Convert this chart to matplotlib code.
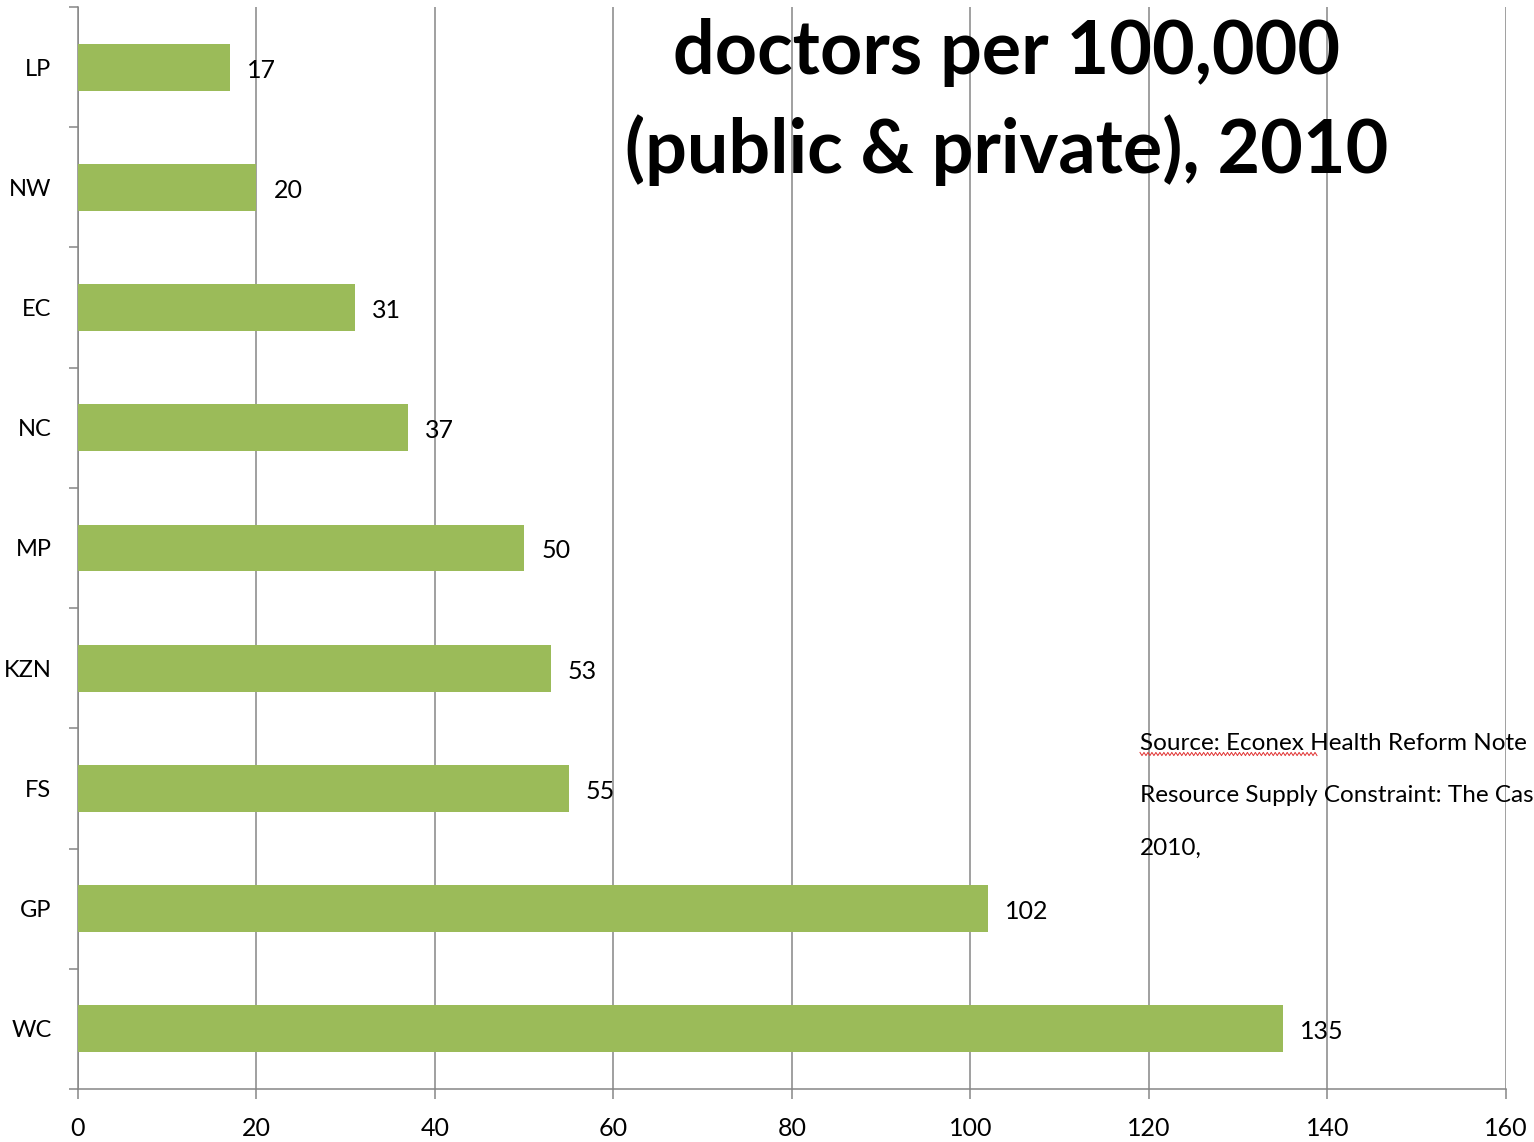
import numpy as np
import matplotlib.pyplot as plt

# doctors per 100,000 population by province, 2010
provinces = ['LP', 'NW', 'EC', 'NC', 'MP', 'KZN', 'FS', 'GP', 'WC']
doctors = [17, 20, 31, 37, 50, 53, 55, 102, 135]
x_ticks = [0, 20, 40, 60, 80, 100, 120, 140, 160]

title_lines = ['doctors per 100,000', '(public & private), 2010']
source_lines = ['Source: Econex Health Reform Note 7, Human',
                'Resource Supply Constraint: The Case of Doctors',
                '2010,']

FONT = ['Lato', 'DejaVu Sans']
GREEN = '#9BBB59'
GREY = '#868686'

plt.rcParams['font.family'] = FONT

W, H = 1534, 1142
fig = plt.figure(figsize=(W / 100, H / 100), dpi=100)
ax = fig.add_axes([0.0508, 0.0464, 0.9309, 0.9475])

ypos = np.arange(len(provinces))
ax.barh(ypos, doctors, height=0.39, color=GREEN, zorder=3)

for y, v in zip(ypos, doctors):
    ax.annotate(str(v), (v, y), xytext=(17, -3), textcoords='offset pixels',
                ha='left', va='center', fontsize=18, color='black', zorder=4)

ax.set_xlim(0, 160)
ax.set_ylim(len(provinces) - 0.5, -0.5)

ax.set_xticks(x_ticks)
ax.set_xticklabels([str(t) for t in x_ticks], fontsize=18)
ax.tick_params(axis='x', length=7.5, width=1.1, color=GREY, pad=13)
ax.grid(axis='x', color=GREY, linewidth=1.1, zorder=1)

# category boundary ticks on the y axis, labels at the centres
ax.set_yticks(np.arange(len(provinces) + 1) - 0.5)
ax.set_yticklabels([])
ax.tick_params(axis='y', which='major', length=6.5, width=1.1, color=GREY)
ax.set_yticks(ypos, minor=True)
ax.set_yticklabels(provinces, minor=True, fontsize=17)
ax.tick_params(axis='y', which='minor', length=0, pad=19)

for side in ['top', 'right']:
    ax.spines[side].set_visible(False)
for side in ['left', 'bottom']:
    ax.spines[side].set_color(GREY)
    ax.spines[side].set_linewidth(1.1)

# two-line title, placed by baseline
for line, base in zip(title_lines, [74, 173]):
    fig.text(1007 / W, 1 - base / H, line, ha='center', va='baseline',
             fontsize=53, fontweight='bold')

# source note runs off the right edge, as in the original slide
for line, yc in zip(source_lines, [743, 796, 848]):
    fig.text(1140 / W, 1 - yc / H, line, ha='left', va='center', fontsize=17.5)

# spell-check squiggle under "Source: Econex"
sx = np.linspace(1140, 1317, 90)
sy = H - 754 + 1.6 * np.where(np.arange(90) % 2 == 0, 1, -1)
fig.add_artist(plt.Line2D(sx / W, sy / H, color='#E03030', linewidth=0.7,
                          transform=fig.transFigure))

fig.savefig('out.png', dpi=100)
